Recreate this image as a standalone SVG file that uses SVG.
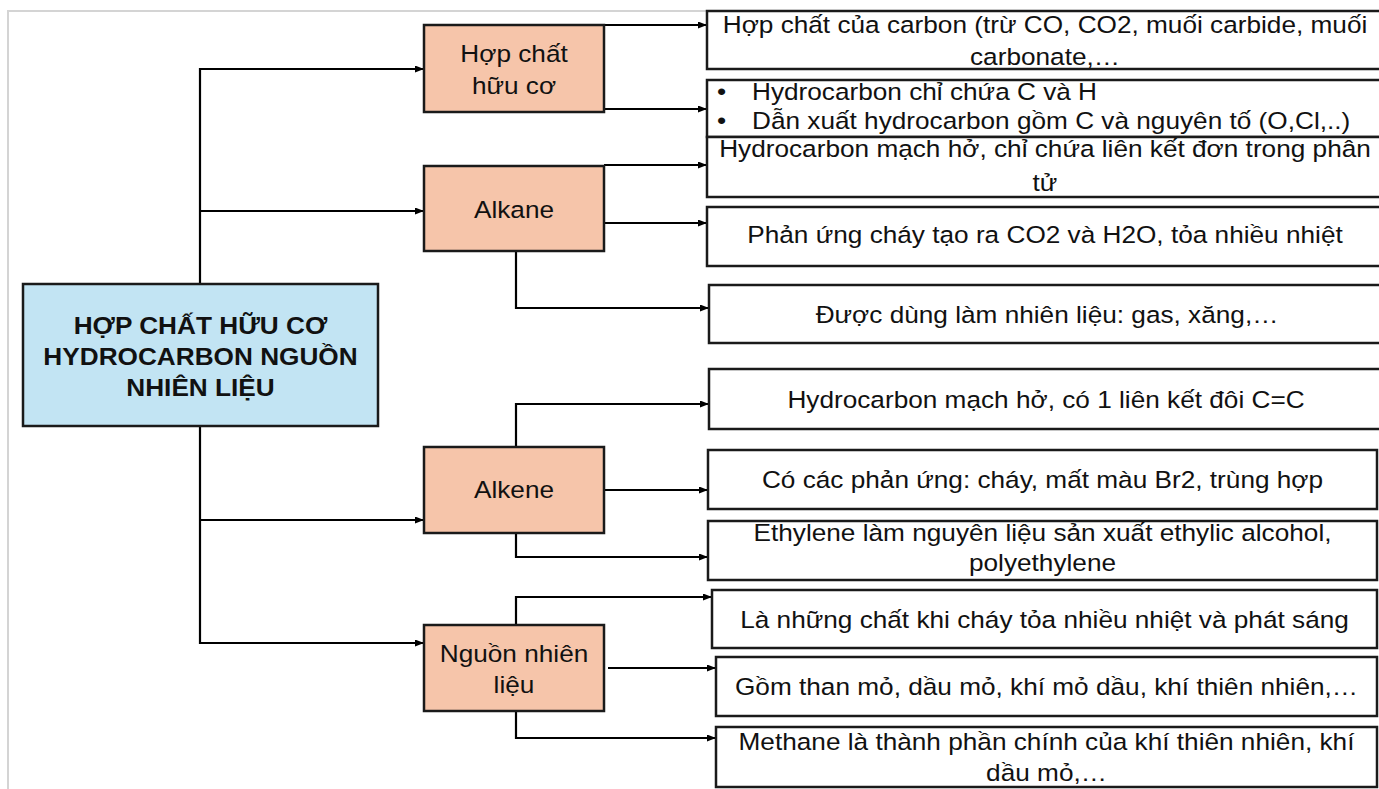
<svg xmlns="http://www.w3.org/2000/svg" width="1379" height="789" viewBox="0 0 1379 789">
  <defs>
    <marker id="arr" markerUnits="userSpaceOnUse" markerWidth="10" markerHeight="8" refX="9" refY="3.5" orient="auto">
      <path d="M0,0 L9,3.5 L0,7 z" fill="#000"/>
    </marker>
    <style>
      .frame { stroke: #d4d4d4; stroke-width: 2; fill: none; }
      .conn { fill: none; stroke: #000; stroke-width: 2.2; }
      .arrow { marker-end: url(#arr); }
      .main { fill: #c2e4f3; stroke: #1a1a1a; stroke-width: 2.5; }
      .mid { fill: #f6c5aa; stroke: #1a1a1a; stroke-width: 2.5; }
      .leaf { fill: #ffffff; stroke: #1a1a1a; stroke-width: 2.5; }
      text { font-family: "Liberation Sans", Arial, sans-serif; font-size: 23.5px; fill: #111; }
      .c { text-anchor: middle; }
      .s { text-anchor: start; }
      .b { font-weight: bold; }
    </style>
  </defs>
  <rect width="1379" height="789" fill="#ffffff"/>
  <path class="frame" d="M8,789 V11 H1379"/>

  <g id="connectors">
    <path class="conn arrow" d="M200,284 V69 H424"/>
    <path class="conn arrow" d="M200,211 H424"/>
    <path class="conn arrow" d="M200,426 V643 H424"/>
    <path class="conn arrow" d="M200,520 H424"/>
    <path class="conn arrow" d="M604,25 H707"/>
    <path class="conn arrow" d="M604,109 H707"/>
    <path class="conn arrow" d="M604,165 H707"/>
    <path class="conn arrow" d="M604,223 H707"/>
    <path class="conn arrow" d="M516,251 V308 H709"/>
    <path class="conn arrow" d="M516,447 V404 H709"/>
    <path class="conn arrow" d="M604,490 H708"/>
    <path class="conn arrow" d="M516,533 V557 H708"/>
    <path class="conn arrow" d="M516,625 V597 H712"/>
    <path class="conn arrow" d="M608,668 H716"/>
    <path class="conn arrow" d="M516,711 V738 H716"/>
  </g>

  <g id="node-main">
    <rect class="main" x="23" y="284" width="355" height="142"/>
    <text class="c b" transform="translate(200.5 334) scale(1.115 1)">HỢP CHẤT HỮU CƠ</text>
    <text class="c b" transform="translate(200.5 365) scale(1.115 1)">HYDROCARBON NGUỒN</text>
    <text class="c b" transform="translate(200.5 396) scale(1.115 1)">NHIÊN LIỆU</text>
  </g>

  <g id="node-hop-chat">
    <rect class="mid" x="424" y="25" width="180" height="87"/>
    <text class="c" transform="translate(514 62) scale(1.115 1)">Hợp chất</text>
    <text class="c" transform="translate(514 94) scale(1.115 1)">hữu cơ</text>
  </g>
  <g id="node-alkane">
    <rect class="mid" x="424" y="166" width="180" height="85"/>
    <text class="c" transform="translate(514 218) scale(1.115 1)">Alkane</text>
  </g>
  <g id="node-alkene">
    <rect class="mid" x="424" y="447" width="180" height="86"/>
    <text class="c" transform="translate(514 498) scale(1.115 1)">Alkene</text>
  </g>
  <g id="node-nguon">
    <rect class="mid" x="424" y="625" width="180" height="86"/>
    <text class="c" transform="translate(514 662) scale(1.115 1)">Nguồn nhiên</text>
    <text class="c" transform="translate(514 693) scale(1.115 1)">liệu</text>
  </g>

  <g id="leaf-1">
    <rect class="leaf" x="707" y="11" width="676" height="58"/>
    <text class="c" transform="translate(1045 33) scale(1.115 1)">Hợp chất của carbon (trừ CO, CO2, muối carbide, muối</text>
    <text class="c" transform="translate(1045 65) scale(1.115 1)">carbonate,…</text>
  </g>
  <g id="leaf-2">
    <rect class="leaf" x="707" y="80" width="676" height="57"/>
    <text class="s" transform="translate(717 100) scale(1.115 1)">•</text>
    <text class="s" transform="translate(752 100) scale(1.115 1)">Hydrocarbon chỉ chứa C và H</text>
    <text class="s" transform="translate(717 129) scale(1.115 1)">•</text>
    <text class="s" transform="translate(752 129) scale(1.115 1)">Dẫn xuất hydrocarbon gồm C và nguyên tố (O,Cl,..)</text>
  </g>
  <g id="leaf-3">
    <rect class="leaf" x="707" y="137" width="676" height="60"/>
    <text class="c" transform="translate(1045 157) scale(1.115 1)">Hydrocarbon mạch hở, chỉ chứa liên kết đơn trong phân</text>
    <text class="c" transform="translate(1045 191) scale(1.115 1)">tử</text>
  </g>
  <g id="leaf-4">
    <rect class="leaf" x="707" y="207" width="676" height="59"/>
    <text class="c" transform="translate(1045 243) scale(1.115 1)">Phản ứng cháy tạo ra CO2 và H2O, tỏa nhiều nhiệt</text>
  </g>
  <g id="leaf-5">
    <rect class="leaf" x="709" y="285" width="674" height="58"/>
    <text class="c" transform="translate(1047 323) scale(1.115 1)">Được dùng làm nhiên liệu: gas, xăng,…</text>
  </g>
  <g id="leaf-6">
    <rect class="leaf" x="709" y="369" width="674" height="60"/>
    <text class="c" transform="translate(1046 408) scale(1.115 1)">Hydrocarbon mạch hở, có 1 liên kết đôi C=C</text>
  </g>
  <g id="leaf-7">
    <rect class="leaf" x="708" y="450" width="669" height="59"/>
    <text class="c" transform="translate(1042.5 488) scale(1.115 1)">Có các phản ứng: cháy, mất màu Br2, trùng hợp</text>
  </g>
  <g id="leaf-8">
    <rect class="leaf" x="708" y="521" width="669" height="59"/>
    <text class="c" transform="translate(1042.5 541) scale(1.115 1)">Ethylene làm nguyên liệu sản xuất ethylic alcohol,</text>
    <text class="c" transform="translate(1042.5 571) scale(1.115 1)">polyethylene</text>
  </g>
  <g id="leaf-9">
    <rect class="leaf" x="712" y="590" width="665" height="58"/>
    <text class="c" transform="translate(1044.5 628) scale(1.115 1)">Là những chất khi cháy tỏa nhiều nhiệt và phát sáng</text>
  </g>
  <g id="leaf-10">
    <rect class="leaf" x="716" y="657" width="661" height="59"/>
    <text class="c" transform="translate(1046.5 695) scale(1.115 1)">Gồm than mỏ, dầu mỏ, khí mỏ dầu, khí thiên nhiên,…</text>
  </g>
  <g id="leaf-11">
    <rect class="leaf" x="716" y="727" width="661" height="60"/>
    <text class="c" transform="translate(1046.5 750) scale(1.115 1)">Methane là thành phần chính của khí thiên nhiên, khí</text>
    <text class="c" transform="translate(1046.5 781) scale(1.115 1)">dầu mỏ,…</text>
  </g>
</svg>
